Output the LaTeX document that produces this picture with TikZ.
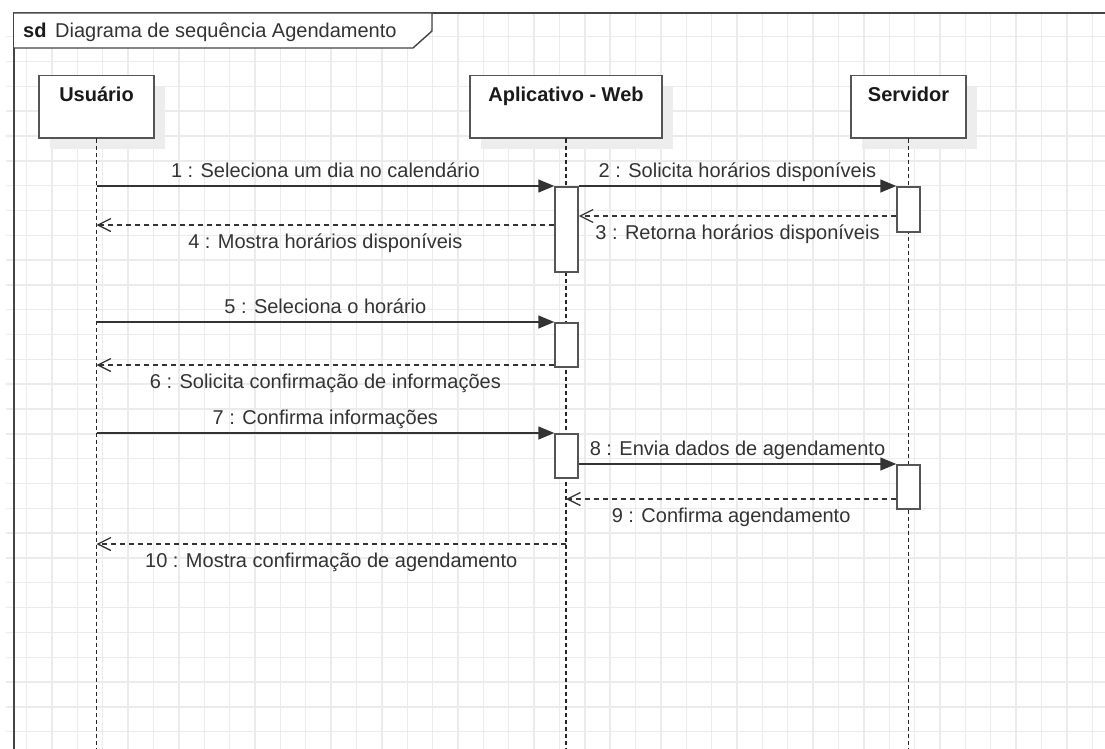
\documentclass[tikz,border=0pt]{standalone}
\usepackage{fontspec}
\setmainfont{Liberation Sans}
\usetikzlibrary{arrows.meta,shadows}
\definecolor{gridc}{HTML}{EBEBEB}
\definecolor{framec}{HTML}{444444}
\definecolor{boxc}{HTML}{555555}
\definecolor{linec}{HTML}{333333}
\definecolor{txtc}{HTML}{333333}
\definecolor{hdrc}{HTML}{1A1A1A}
\definecolor{shadowc}{HTML}{EDEDED}
\newcommand\lblfnt{\fontsize{20}{24}\selectfont}
\begin{document}
\begin{tikzpicture}[x=1pt,y=-1pt,
  gridline/.style={gridc, line width=1.4pt},
  hdrbox/.style={draw=boxc, line width=1.5pt, fill=white, minimum height=62pt, inner sep=0pt, anchor=north,
    drop shadow={shadow xshift=11pt, shadow yshift=-11pt, fill=shadowc, opacity=1}},
  hdrtext/.style={anchor=base, inner sep=0pt, font=\lblfnt\bfseries, text=hdrc},
  actbox/.style={draw=boxc, line width=1.5pt, fill=white, minimum width=23pt, inner sep=0pt, anchor=north},
  life/.style={draw=black!85, line width=1.5pt, dash pattern=on 4pt off 3pt},
  sync/.style={draw=linec, line width=1.5pt, -{Triangle[length=16pt,width=13pt]}},
  reply/.style={draw=linec, line width=1.3pt, dash pattern=on 5pt off 4pt, -{Straight Barb[length=13pt,width=13pt,line width=1.3pt]}},
  lblabove/.style={midway, anchor=base, yshift=9pt, inner sep=0pt, font=\lblfnt, text=txtc},
  lblbelow/.style={midway, anchor=base, yshift=-23pt, inner sep=0pt, font=\lblfnt, text=txtc}]
\useasboundingbox (0,0) rectangle (1105,749);
\fill[white] (0,0) rectangle (1105,749);
% grid
\foreach \i in {1,...,43} \draw[gridline] ({1.3+25.37*\i},13) -- ({1.3+25.37*\i},749);
\foreach \j in {0,...,28} \draw[gridline] (6,{36.7+24.82*\j}) -- (1105,{36.7+24.82*\j});
% frame
\draw[framec, line width=1.6pt] (14,749) -- (14,13) -- (1105,13);
\draw[framec, line width=1.4pt, fill=white] (14,13) -- (432,13) -- (432,31) -- (413,48) -- (14,48);
\node[anchor=base west, inner sep=0pt, font=\lblfnt\bfseries, text=hdrc] (sd) at (23,37.3) {sd};
\node[anchor=base west, inner sep=0pt, font=\lblfnt, text=txtc] (ttl) at (55,37.3) {Diagrama de sequência Agendamento};
% headers
\node[hdrbox, minimum width=115pt] (u) at (96.5,75) {};
\node[hdrbox, minimum width=192pt] (a) at (566,75) {};
\node[hdrbox, minimum width=115pt] (s) at (908.5,75) {};
\node[hdrtext] (ut) at (96.5,102) {Usuário};
\node[hdrtext] (at) at (566,102) {Aplicativo - Web};
\node[hdrtext] (st) at (908.5,102) {Servidor};
% lifeline ends
\coordinate (uend) at (96.5,749);
\coordinate (aend) at (566,749);
\coordinate (send) at (908.5,749);
\draw[life] (u.south) -- (uend);
\draw[life] (a.south) -- (aend);
\draw[life] (s.south) -- (send);
% activations
\node[actbox, minimum height=85pt] (a1) at (566.5,186) {};
\node[actbox, minimum height=45pt] (s1) at (908.5,186) {};
\node[actbox, minimum height=44pt] (a2) at (566.5,322) {};
\node[actbox, minimum height=44pt] (a3) at (566.5,433) {};
\node[actbox, minimum height=44pt] (s2) at (908.5,464) {};
% message levels
\coordinate (y3) at (0,216);
\coordinate (y4) at (0,225);
\coordinate (y6) at (0,365);
\coordinate (y9) at (0,499);
\coordinate (y10) at (0,544);
% messages
\draw[sync] (u.south |- a1.north) -- (a1.north west) node[lblabove] {1 : Seleciona um dia no calendário};
\draw[sync] (a1.north east) -- (s1.north west) node[lblabove] {2 : Solicita horários disponíveis};
\draw[reply] (s1.west |- y3) -- (a1.east |- y3) node[lblbelow] {3 : Retorna horários disponíveis};
\draw[reply] (a1.west |- y4) -- (u.south |- y4) node[lblbelow] {4 : Mostra horários disponíveis};
\draw[sync] (u.south |- a2.north) -- (a2.north west) node[lblabove] {5 : Seleciona o horário};
\draw[reply] (a2.west |- y6) -- (u.south |- y6) node[lblbelow] {6 : Solicita confirmação de informações};
\draw[sync] (u.south |- a3.north) -- (a3.north west) node[lblabove] {7 : Confirma informações};
\draw[sync] (a3.east |- s2.north) -- (s2.north west) node[lblabove] {8 : Envia dados de agendamento};
\draw[reply] (s2.west |- y9) -- (a.south |- y9) node[lblbelow] {9 : Confirma agendamento};
\draw[reply] (a.south |- y10) -- (u.south |- y10) node[lblbelow] {10 : Mostra confirmação de agendamento};
\end{tikzpicture}
\end{document}
